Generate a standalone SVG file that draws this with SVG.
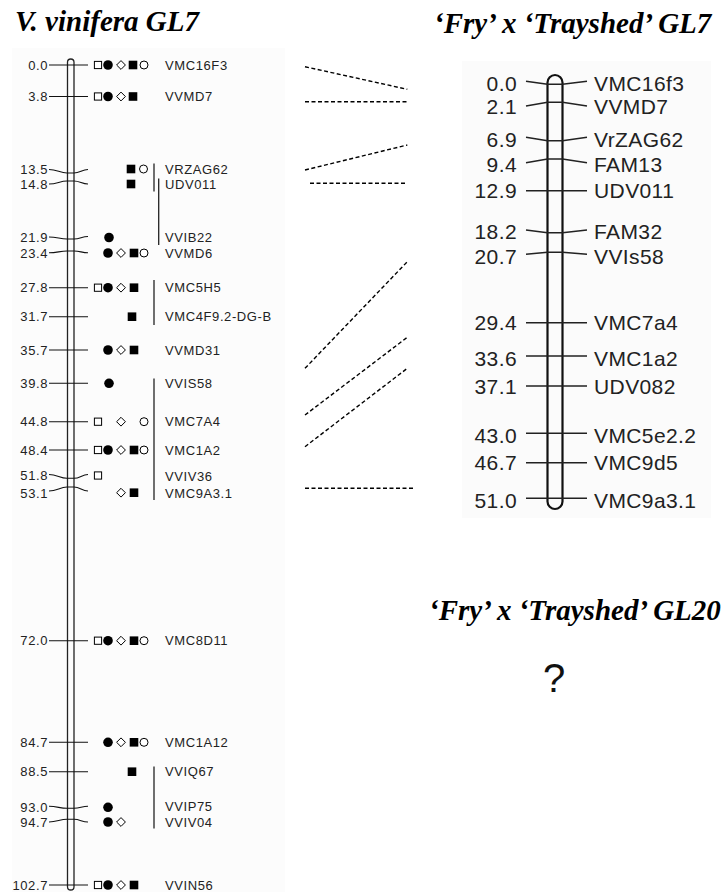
<svg xmlns="http://www.w3.org/2000/svg" width="724" height="894" viewBox="0 0 724 894">
<style>
.title{font-family:"Liberation Serif","Times New Roman",serif;font-weight:bold;font-style:italic;font-size:29px;fill:#000}
.ln{font-family:"Liberation Sans",Arial,sans-serif;font-size:13px;letter-spacing:0.6px;fill:#222}
.lnum{text-anchor:end}
.rn{font-family:"Liberation Sans",Arial,sans-serif;font-size:21px;letter-spacing:0.4px;fill:#222}
.rnum{text-anchor:end}
.tick{fill:none;stroke:#111;stroke-width:1.1}
.rtick{fill:none;stroke:#222;stroke-width:1.6}
.chrom{fill:none;stroke:#222;stroke-width:1.3}
.rchrom{fill:none;stroke:#111;stroke-width:2.2}
.bar{stroke:#222;stroke-width:1.3}
.dash{fill:none;stroke:#000;stroke-width:1.4;stroke-dasharray:4 2.5}
</style>
<defs>
<rect id="osq" x="-3.6" y="-3.6" width="7.2" height="7.2" fill="#fff" stroke="#000" stroke-width="1"/>
<circle id="fci" r="4.8" fill="#000"/>
<polygon id="odi" points="0,-4.4 4.4,0 0,4.4 -4.4,0" fill="#fff" stroke="#000" stroke-width="1"/>
<rect id="fsq" x="-4.3" y="-4.3" width="8.6" height="8.6" fill="#000"/>
<circle id="oci" r="4" fill="#fff" stroke="#000" stroke-width="1"/>
</defs>
<rect width="724" height="894" fill="#fff"/>
<rect x="12" y="48" width="273" height="844" fill="#fcfcfc"/>
<rect x="462" y="61" width="249" height="457" fill="#fbfbfb"/>

<text class="title" x="15" y="31">V. vinifera GL7</text>
<text class="title" x="434" y="33">‘Fry’ x ‘Trayshed’ GL7</text>
<text class="title" x="429" y="620">‘Fry’ x ‘Trayshed’ GL20</text>
<text x="554" y="692" text-anchor="middle" style="font-family:'Liberation Sans',Arial,sans-serif;font-size:40px;fill:#111">?</text>

<g id="left-chromosome">
<rect class="chrom" x="67.5" y="59" width="6.5" height="831" rx="3.25"/>
</g>

<g id="left-markers">
<g id="m-VMC16F3">
<path class="tick" d="M49,65 H88"/>
<text class="ln lnum" x="48" y="69.6">0.0</text>
<use href="#osq" x="98" y="65"/><use href="#fci" x="108" y="65"/><use href="#odi" x="121" y="65"/><use href="#fsq" x="133" y="65"/><use href="#oci" x="144" y="65"/>
<text class="ln" x="165" y="69.6">VMC16F3</text>
</g>
<g id="m-VVMD7">
<path class="tick" d="M49,96.5 H88"/>
<text class="ln lnum" x="48" y="101.1">3.8</text>
<use href="#osq" x="98" y="96.5"/><use href="#fci" x="108" y="96.5"/><use href="#odi" x="121" y="96.5"/><use href="#fsq" x="133" y="96.5"/>
<text class="ln" x="165" y="101.1">VVMD7</text>
</g>
<g id="m-VRZAG62">
<path class="tick" d="M49,169.5 C57,169.5 60,173 67,173 H74 C80,173 82,169.5 88,169.5"/>
<text class="ln lnum" x="48" y="174">13.5</text>
<use href="#fsq" x="131" y="169"/><use href="#oci" x="143.5" y="169"/>
<text class="ln" x="165" y="173.5">VRZAG62</text>
</g>
<g id="m-UDV011">
<path class="tick" d="M49,184 C57,184 60,181 67,181 H74 C80,181 82,184 88,184"/>
<text class="ln lnum" x="48" y="188.8">14.8</text>
<use href="#fsq" x="131" y="184"/>
<text class="ln" x="165" y="189">UDV011</text>
</g>
<g id="m-VVIB22">
<path class="tick" d="M49,237 C57,237 60,239 67,239 H74 C80,239 82,236.5 88,236.5"/>
<text class="ln lnum" x="48" y="242.3">21.9</text>
<use href="#fci" x="109" y="237.5"/>
<text class="ln" x="165" y="242">VVIB22</text>
</g>
<g id="m-VVMD6">
<path class="tick" d="M49,252.8 C57,252.8 60,251 67,251 H74 C80,251 82,252.8 88,252.8"/>
<text class="ln lnum" x="48" y="258">23.4</text>
<use href="#fci" x="108" y="253"/><use href="#odi" x="121" y="253"/><use href="#fsq" x="134" y="253"/><use href="#oci" x="144" y="253"/>
<text class="ln" x="165" y="257.8">VVMD6</text>
</g>
<g id="m-VMC5H5">
<path class="tick" d="M49,287.7 H88"/>
<text class="ln lnum" x="48" y="292.3">27.8</text>
<use href="#osq" x="98" y="287.7"/><use href="#fci" x="108" y="287.7"/><use href="#odi" x="121" y="287.7"/><use href="#fsq" x="134" y="287.7"/>
<text class="ln" x="165" y="292.3">VMC5H5</text>
</g>
<g id="m-VMC4F9.2-DG-B">
<path class="tick" d="M49,316.7 H88"/>
<text class="ln lnum" x="48" y="321.3">31.7</text>
<use href="#fsq" x="132" y="316.7"/>
<text class="ln" x="165" y="321.3">VMC4F9.2-DG-B</text>
</g>
<g id="m-VVMD31">
<path class="tick" d="M49,350 H88"/>
<text class="ln lnum" x="48" y="354.6">35.7</text>
<use href="#fci" x="108" y="350"/><use href="#odi" x="121" y="350"/><use href="#fsq" x="134" y="350"/>
<text class="ln" x="165" y="354.6">VVMD31</text>
</g>
<g id="m-VVIS58">
<path class="tick" d="M49,383.3 H88"/>
<text class="ln lnum" x="48" y="387.9">39.8</text>
<use href="#fci" x="109" y="383.3"/>
<text class="ln" x="165" y="387.9">VVIS58</text>
</g>
<g id="m-VMC7A4">
<path class="tick" d="M49,421.7 H88"/>
<text class="ln lnum" x="48" y="426.3">44.8</text>
<use href="#osq" x="98" y="421.7"/><use href="#odi" x="121" y="421.7"/><use href="#oci" x="144" y="421.7"/>
<text class="ln" x="165" y="426.3">VMC7A4</text>
</g>
<g id="m-VMC1A2">
<path class="tick" d="M49,450 H88"/>
<text class="ln lnum" x="48" y="454.6">48.4</text>
<use href="#osq" x="98" y="450"/><use href="#fci" x="108" y="450"/><use href="#odi" x="121" y="450"/><use href="#fsq" x="134" y="450"/><use href="#oci" x="144" y="450"/>
<text class="ln" x="165" y="454.6">VMC1A2</text>
</g>
<g id="m-VVIV36">
<path class="tick" d="M49,474.5 C57,474.5 60,478.3 67,478.3 H74 C80,478.3 82,474.5 88,474.5"/>
<text class="ln lnum" x="48" y="480.3">51.8</text>
<use href="#osq" x="98" y="475.5"/>
<text class="ln" x="165" y="480.6">VVIV36</text>
</g>
<g id="m-VMC9A3.1">
<path class="tick" d="M49,491 C57,491 60,487 67,487 H74 C80,487 82,491 88,491"/>
<text class="ln lnum" x="48" y="497.5">53.1</text>
<use href="#odi" x="121" y="492.7"/><use href="#fsq" x="134" y="492.7"/>
<text class="ln" x="165" y="497.9">VMC9A3.1</text>
</g>
<g id="m-VMC8D11">
<path class="tick" d="M49,640.7 H88"/>
<text class="ln lnum" x="48" y="645.3">72.0</text>
<use href="#osq" x="98" y="640.7"/><use href="#fci" x="108" y="640.7"/><use href="#odi" x="121" y="640.7"/><use href="#fsq" x="134" y="640.7"/><use href="#oci" x="144" y="640.7"/>
<text class="ln" x="165" y="645.3">VMC8D11</text>
</g>
<g id="m-VMC1A12">
<path class="tick" d="M49,742.3 H88"/>
<text class="ln lnum" x="48" y="746.9">84.7</text>
<use href="#fci" x="108" y="742.3"/><use href="#odi" x="121" y="742.3"/><use href="#fsq" x="134" y="742.3"/><use href="#oci" x="144" y="742.3"/>
<text class="ln" x="165" y="746.9">VMC1A12</text>
</g>
<g id="m-VVIQ67">
<path class="tick" d="M49,771.7 H88"/>
<text class="ln lnum" x="48" y="776.3">88.5</text>
<use href="#fsq" x="132" y="771.7"/>
<text class="ln" x="165" y="776.3">VVIQ67</text>
</g>
<g id="m-VVIP75">
<path class="tick" d="M49,806.3 C57,806.3 60,808.3 67,808.3 H74 C80,808.3 82,806.3 88,806.3"/>
<text class="ln lnum" x="48" y="811.7">93.0</text>
<use href="#fci" x="108" y="807.3"/>
<text class="ln" x="165" y="811.3">VVIP75</text>
</g>
<g id="m-VVIV04">
<path class="tick" d="M49,822 C57,822 60,819.3 67,819.3 H74 C80,819.3 82,822 88,822"/>
<text class="ln lnum" x="48" y="827.3">94.7</text>
<use href="#fci" x="108" y="822"/><use href="#odi" x="121" y="822"/>
<text class="ln" x="165" y="827.3">VVIV04</text>
</g>
<g id="m-VVIN56">
<path class="tick" d="M49,885 H88"/>
<text class="ln lnum" x="48" y="889.6">102.7</text>
<use href="#osq" x="98" y="885"/><use href="#fci" x="108" y="885"/><use href="#odi" x="121" y="885"/><use href="#fsq" x="134" y="885"/>
<text class="ln" x="165" y="889.6">VVIN56</text>
</g>
</g>

<g id="left-brackets">
<line class="bar" x1="154" y1="163.5" x2="154" y2="191.5"/>
<line class="bar" x1="158.7" y1="178.5" x2="158.7" y2="245"/>
<line class="bar" x1="154" y1="280" x2="154" y2="325"/>
<line class="bar" x1="154" y1="378.5" x2="154" y2="500"/>
<line class="bar" x1="154" y1="766.5" x2="154" y2="828.5"/>
</g>

<g id="right-chromosome">
<rect class="rchrom" x="547.5" y="75" width="15" height="434" rx="7.5"/>
</g>

<g id="right-markers">
<g id="r-VMC16f3"><path class="rtick" d="M526,81.3 L547.5,84.3 H562.5 L587,81.3"/><text class="rn rnum" x="517" y="90.8">0.0</text><text class="rn" x="594" y="90.8">VMC16f3</text></g>
<g id="r-VVMD7"><path class="rtick" d="M526,106 L547.5,102.3 H562.5 L587,106"/><text class="rn rnum" x="517" y="114.2">2.1</text><text class="rn" x="594" y="114.2">VVMD7</text></g>
<g id="r-VrZAG62"><path class="rtick" d="M526,137.3 L547.5,140.7 H562.5 L587,137.3"/><text class="rn rnum" x="517" y="146.5">6.9</text><text class="rn" x="594" y="146.5">VrZAG62</text></g>
<g id="r-FAM13"><path class="rtick" d="M526,162.7 L547.5,159 H562.5 L587,162.7"/><text class="rn rnum" x="517" y="171.5">9.4</text><text class="rn" x="594" y="171.5">FAM13</text></g>
<g id="r-UDV011"><path class="rtick" d="M526,190.7 H587"/><text class="rn rnum" x="517" y="198.2">12.9</text><text class="rn" x="594" y="198.2">UDV011</text></g>
<g id="r-FAM32"><path class="rtick" d="M526,230 L547.5,232.7 H562.5 L587,230"/><text class="rn rnum" x="517" y="239.2">18.2</text><text class="rn" x="594" y="239.2">FAM32</text></g>
<g id="r-VVIs58"><path class="rtick" d="M526,254.3 L547.5,252.3 H562.5 L587,254.3"/><text class="rn rnum" x="517" y="264.2">20.7</text><text class="rn" x="594" y="264.2">VVIs58</text></g>
<g id="r-VMC7a4"><path class="rtick" d="M526,322.7 H587"/><text class="rn rnum" x="517" y="330.2">29.4</text><text class="rn" x="594" y="330.2">VMC7a4</text></g>
<g id="r-VMC1a2"><path class="rtick" d="M526,356 H587"/><text class="rn rnum" x="517" y="365.8">33.6</text><text class="rn" x="594" y="365.8">VMC1a2</text></g>
<g id="r-UDV082"><path class="rtick" d="M526,386 H587"/><text class="rn rnum" x="517" y="394.2">37.1</text><text class="rn" x="594" y="394.2">UDV082</text></g>
<g id="r-VMC5e2.2"><path class="rtick" d="M526,433.3 H587"/><text class="rn rnum" x="517" y="442.5">43.0</text><text class="rn" x="594" y="442.5">VMC5e2.2</text></g>
<g id="r-VMC9d5"><path class="rtick" d="M526,462.7 H587"/><text class="rn rnum" x="517" y="470.2">46.7</text><text class="rn" x="594" y="470.2">VMC9d5</text></g>
<g id="r-VMC9a3.1"><path class="rtick" d="M526,498.3 H587"/><text class="rn rnum" x="517" y="507.5">51.0</text><text class="rn" x="594" y="507.5">VMC9a3.1</text></g>
</g>

<g id="connectors">
<line class="dash" x1="305" y1="66.7" x2="407.3" y2="89.3"/>
<line class="dash" x1="305" y1="101.7" x2="407.3" y2="101.7"/>
<line class="dash" x1="305" y1="170" x2="407.3" y2="145"/>
<line class="dash" x1="310" y1="183.3" x2="407.3" y2="183.3"/>
<line class="dash" x1="305" y1="368.3" x2="407.3" y2="261.7"/>
<line class="dash" x1="305" y1="415" x2="407.3" y2="337.3"/>
<line class="dash" x1="305" y1="446.7" x2="407.3" y2="368.3"/>
<line class="dash" x1="305" y1="488.3" x2="413" y2="488.3"/>
</g>
</svg>
